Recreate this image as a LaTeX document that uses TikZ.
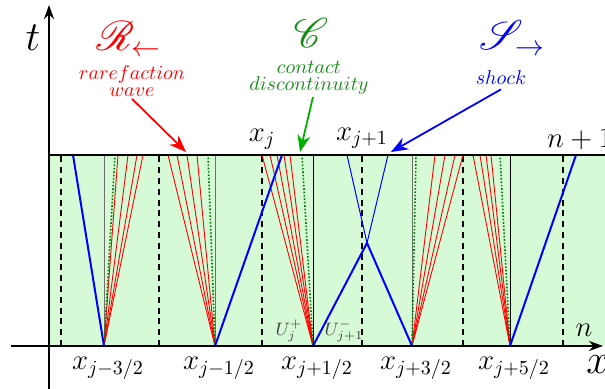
\documentclass[tikz,border=0pt]{standalone}
\usepackage{mathtools}
\usepackage{amssymb}
\usepackage{mathrsfs}
\usepackage{tikz}
\definecolor{cellgreen}{RGB}{214,250,214}
\definecolor{dotgreen}{RGB}{0,125,0}
\definecolor{labelgreen}{RGB}{20,140,20}
\definecolor{arrowgreen}{RGB}{0,175,0}
\definecolor{ifacegray}{RGB}{110,110,110}
\usetikzlibrary{arrows.meta}

\begin{document}
\begin{tikzpicture}[scale=1,x=50pt,y=50pt,
	fanline/.style={red,line width=0.45pt},
	shockline/.style={blue,line width=1pt},
	contactline/.style={dotgreen,line width=0.8pt,dash pattern=on 0.8pt off 0.9pt},
	cellmid/.style={black,line width=0.9pt,dash pattern=on 3pt off 2.4pt},
	lblarrow/.style={line width=0.9pt,-{Stealth[length=8.5pt,width=6.5pt]}},
	axisarrow/.style={line width=1pt,-{Stealth[length=7pt,width=5pt]}}]
	
	\useasboundingbox (-0.49,-0.43) rectangle (5.56,3.46);
	
	\fill[cellgreen] (0,0) rectangle (5.56,1.91);
	
	\foreach \xc in {0.12,1.10,2.13,3.13,4.14,5.14}
		\draw[cellmid] (\xc,0) -- (\xc,1.91);
	
	\foreach \xi/\col in {0.55/ifacegray,1.66/ifacegray,2.64/black,3.63/ifacegray,4.61/black}
		\draw[\col,line width=0.5pt] (\xi,0) -- (\xi,1.91);
	
	\foreach \tp in {0.69,0.79,0.88,0.94}
		\draw[fanline] (0.55,0) -- (\tp,1.91);
	\foreach \tp in {1.19,1.28,1.38,1.48}
		\draw[fanline] (1.66,0) -- (\tp,1.91);
	\foreach \tp in {2.13,2.21,2.28,2.35,2.41}
		\draw[fanline] (2.64,0) -- (\tp,1.91);
	\foreach \tp in {3.86,3.96,4.06,4.14}
		\draw[fanline] (3.63,0) -- (\tp,1.91);
	\foreach \tp in {4.24,4.31,4.37,4.42}
		\draw[fanline] (4.61,0) -- (\tp,1.91);
	
	\foreach \xb/\xt in {0.55/0.66,1.66/1.59,2.64/2.53,3.63/3.67,4.61/4.51}
		\draw[contactline] (\xb,0) -- (\xt,1.91);
	
	\draw[shockline] (0.55,0) -- (0.24,1.91);
	\draw[shockline] (1.66,0) -- (2.33,1.91);
	\draw[shockline] (2.64,0) -- (3.18,1.03) -- (3.63,0);
	\draw[blue,line width=0.5pt] (2.98,1.91) -- (3.18,1.03) -- (3.39,1.91);
	\draw[shockline] (4.61,0) -- (5.27,1.91);
	
	\draw[line width=1pt] (0,1.91) -- (5.56,1.91);
	
	\draw[axisarrow] (-0.38,0) -- (5.54,0);
	\draw[axisarrow] (0,-0.43) -- (0,3.41);
	
	\node[font=\huge] (tlbl) at (-0.16,3.08) {$t$};
	\node[font=\huge] (xlbl) at (5.49,-0.19) {$x$};
	\node[font=\Large] (nlbl) at (5.35,0.16) {$n$};
	\node[font=\Large] (nplbl) at (5.31,2.07) {$n+1$};
	
	\foreach \xi/\lbl [count=\k] in {0.55/{j-3/2},1.66/{j-1/2},2.64/{j+1/2},3.63/{j+3/2},4.61/{j+5/2}}
		\node[font=\Large] (xh\k) at (\xi+0.04,-0.22) {$x_{\lbl}$};
	
	\node[font=\Large] (xjlbl) at (2.13,2.07) {$x_j$};
	\node[font=\Large] (xjplbl) at (3.13,2.08) {$x_{j+1}$};
	
	\node[font=\small,black!75,inner sep=1pt] (uplus) at (2.40,0.15) {$U_j^+$};
	\node[font=\small,black!75,inner sep=1pt] (uminus) at (2.95,0.15) {$U_{j+1}^-$};
	
	\node[red,font=\huge] (rarescr) at (0.80,3.07) {$\mathscr{R}_{\leftarrow}$};
	\node[red,align=center,inner sep=1pt] (rarelbl) at (0.83,2.65)
	{$rarefaction$\\[-3.5pt] $wave$};
	
	\node[labelgreen,font=\huge] (contscr) at (2.62,3.13) {$\mathscr{C}$};
	\node[labelgreen,align=center,inner sep=1pt] (contlbl) at (2.60,2.68)
	{$contact$\\[-3.5pt] $discontinuity$};
	
	\node[blue,font=\huge] (shockscr) at (4.63,3.08) {$\mathscr{S}_{\rightarrow}$};
	\node[blue,inner sep=2pt] (shocklbl) at (4.52,2.68) {$shock$};
	
	\coordinate (rarehit) at (1.37,1.94);
	\coordinate (contacthit) at (2.51,1.94);
	\coordinate (shockhit) at (3.42,1.94);
	
	\draw[lblarrow,red] (rarelbl.south) -- (rarehit);
	\draw[lblarrow,arrowgreen] ([xshift=2pt]contlbl.south) -- (contacthit);
	\draw[lblarrow,blue] (shocklbl.south) -- (shockhit);
	
\end{tikzpicture}
\end{document}
